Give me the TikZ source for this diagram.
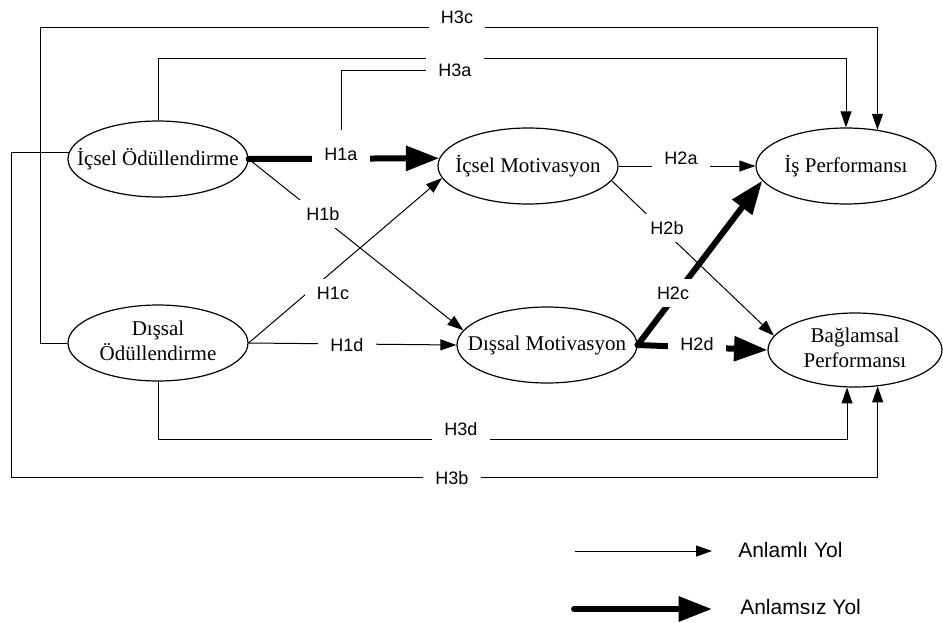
\documentclass[tikz,border=0pt]{standalone}
\usepackage{fontspec}
\setmainfont{Liberation Serif}
\setsansfont{Liberation Sans}
\usetikzlibrary{arrows.meta,shapes.geometric}

\tikzset{
  var/.style={draw, ellipse, line width=0.9pt, inner sep=0pt, minimum width=135pt, minimum height=57pt, font=\fontsize{15.75}{19}\selectfont},
  lbl/.style={fill=white, inner xsep=9pt, inner ysep=5.5pt, font=\sffamily\fontsize{13.5}{16}\selectfont},
  ince/.style={line width=0.75pt, -{Triangle[length=12pt,width=8.25pt]}},
  kalin/.style={line width=4.5pt, line cap=round, -{Triangle[length=25pt,width=18pt]}},
}

\begin{document}
\begin{tikzpicture}[x=0.75pt, y=-0.75pt]
  \useasboundingbox (0,0) rectangle (943,622);

  % degiskenler
  \node[var] (iodul) at (158,159) {\makebox[0pt]{İçsel Ödüllendirme}};
  \node[var] (dodul) at (158,343) {\makebox[0pt]{\begin{tabular}{@{}c@{}}Dışsal\\Ödüllendirme\end{tabular}}};
  \node[var] (imot) at (528,166) {\makebox[0pt]{İçsel Motivasyon}};
  \node[var] (dmot) at (547,345) {\makebox[0pt]{Dışsal Motivasyon}};
  \node[var] (isperf) at (846,166) {\makebox[0pt]{İş Performansı}};
  \node[var, minimum width=130.5pt, minimum height=55.5pt] (bperf) at (855,350) {\makebox[0pt]{\begin{tabular}{@{}c@{}}Bağlamsal\\Performansı\end{tabular}}};

  % kose noktalari
  \coordinate (c3c) at (40,27);
  \coordinate (c3a) at (158,58);
  \coordinate (c3d) at (158,439);
  \coordinate (c3b) at (11,477);

  % H1 yollari
  \draw[kalin] (iodul.east) -- (imot.175);
  \draw[ince] (iodul.east) -- (dmot.170);
  \draw[ince] (dodul.east) -- (imot.188);
  \draw[ince] (dodul.east) -- (dmot.west);

  % H2 yollari
  \draw[ince] (imot.east) -- (isperf.west);
  \draw[ince] (imot.-10) -- (bperf.170);
  \draw[kalin] (dmot.east) -- (isperf.190);
  \draw[kalin] (dmot.east) -- (bperf.west);

  % H3 yollari
  \draw[ince] (dodul.west) -| (c3c) -| (isperf.49);
  \draw[ince] (iodul.north) -- (c3a) -| (isperf.north);
  \draw[ince] (dodul.south) -- (c3d) -| (bperf.-102);
  \draw[ince] (iodul.176) -| (c3b) -| (bperf.-58);

  % etiketler
  \node[lbl] (h1a) at (341,154) {H1a};
  \node[lbl] (h1b) at (323,214) {H1b};
  \node[lbl] (h1c) at (333,293) {H1c};
  \node[lbl] (h1d) at (347,345) {H1d};
  \node[lbl] (h2a) at (681,158) {H2a};
  \node[lbl] (h2b) at (667,228) {H2b};
  \node[lbl] (h2c) at (673,293) {H2c};
  \node[lbl] (h2d) at (697,344) {H2d};
  \node[lbl] (h3c) at (457,17) {H3c};
  \node[lbl] (h3a) at (455,70) {H3a};
  \node[lbl] (h3d) at (461,429) {H3d};
  \node[lbl] (h3b) at (452,478) {H3b};
  \draw[line width=0.75pt] ([yshift=7.5pt]h1a.north) |- (h3a.west);

  % aciklama
  \coordinate (l1s) at (575,551);
  \coordinate (l1e) at (712,551);
  \coordinate (l2s) at (574,609);
  \coordinate (l2e) at (712,609);
  \node[anchor=west, inner sep=0pt, font=\sffamily\fontsize{15.75}{19}\selectfont] (anl) at (738,550) {Anlamlı Yol};
  \node[anchor=west, inner sep=0pt, font=\sffamily\fontsize{15.75}{19}\selectfont] (anls) at (740,607) {Anlamsız Yol};
  \draw[ince] (l1s) -- (l1e);
  \draw[kalin] (l2s) -- (l2e);
\end{tikzpicture}
\end{document}
